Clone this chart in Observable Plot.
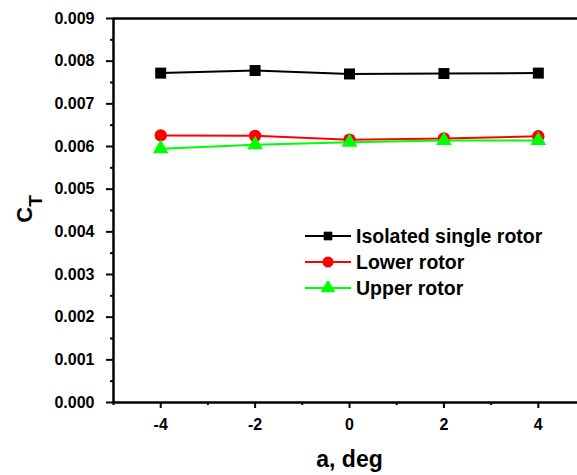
<!DOCTYPE html>
<html><head><meta charset="utf-8">
<script src="https://cdn.jsdelivr.net/npm/d3@7"></script>
<script src="https://cdn.jsdelivr.net/npm/@observablehq/plot@0.6"></script>
<style>
body{margin:0;background:#fff;}
#wrap{position:relative;width:577px;height:475px;overflow:hidden;font-family:"Liberation Sans",Arial,sans-serif;font-weight:bold;}
#legend{position:absolute;left:305px;top:223px;}
.row{display:flex;align-items:center;height:26px;}
.row span{font-size:19.5px;margin-left:5px;color:#000;}
</style></head><body><div id="wrap"><div id="legend"></div></div>
<script>
const alpha = [-4, -2, 0, 2, 4];
const isolated = [0.00772, 0.00778, 0.00770, 0.00771, 0.00772];
const lower = [0.00626, 0.00625, 0.00616, 0.00619, 0.00624];
const upper = [0.00595, 0.00604, 0.00610, 0.00614, 0.00614];
const seriesNames = ["Isolated single rotor", "Lower rotor", "Upper rotor"];
const seriesColors = ["#000000", "#ff0000", "#00ff00"];
const seriesSymbols = ["square", "circle", "triangle"];
const yTicks = [0, 0.001, 0.002, 0.003, 0.004, 0.005, 0.006, 0.007, 0.008, 0.009];
const yMinor = [0.0005, 0.0015, 0.0025, 0.0035, 0.0045, 0.0055, 0.0065, 0.0075, 0.0085];
const xTicks = [-4, -2, 0, 2, 4];
const xMinor = [-5, -3, -1, 1, 3];
const xLabel = "a, deg";
const yLabelMain = "C", yLabelSub = "T";

const seriesValues = [isolated, lower, upper];
const rows = [];
seriesNames.forEach((s, i) => alpha.forEach((a, j) => rows.push({series: s, a, ct: seriesValues[i][j]})));

const symR = {square: 6.2, circle: 6.2, triangle: 5.8};
const marks = [
  Plot.axisY(yTicks, {tickSize: 7, tickPadding: 12, tickFormat: d => d.toFixed(3), fontSize: 16, fontWeight: "bold", strokeWidth: 2, label: null}),
  Plot.axisY(yMinor, {tickSize: 3, text: null, strokeWidth: 2, label: null}),
  Plot.axisX(xTicks, {tickSize: 6, tickPadding: 10, fontSize: 16, fontWeight: "bold", strokeWidth: 2, label: null, tickFormat: d => String(d).replace("\u2212", "-")}),
  Plot.axisX(xMinor, {tickSize: 3, text: null, strokeWidth: 2, label: null}),
  Plot.ruleY([0], {strokeWidth: 2.5}),
  Plot.ruleY([0.009], {strokeWidth: 2.5}),
  Plot.ruleX([-5], {strokeWidth: 2.5}),
];
seriesNames.forEach((s, i) => {
  const d = rows.filter(r => r.series === s);
  marks.push(Plot.line(d, {x: "a", y: "ct", stroke: seriesColors[i], strokeWidth: 2}));
  marks.push(Plot.dot(d, {x: "a", y: "ct", symbol: () => seriesSymbols[i], r: symR[seriesSymbols[i]], fill: seriesColors[i], stroke: "none"}));
});
marks.push(Plot.text([xLabel], {x: () => 0, frameAnchor: "bottom", dy: 64, text: d => d, fontSize: 23, fontWeight: "bold", lineAnchor: "bottom"}));

const plot = Plot.plot({
  width: 577, height: 475,
  marginLeft: 113, marginRight: 0, marginTop: 18, marginBottom: 73,
  style: {fontFamily: "'Liberation Sans', Arial, sans-serif", fontWeight: "bold", color: "#000", background: "#fff", overflow: "visible"},
  x: {domain: [-5, 4.83]},
  y: {domain: [0, 0.009]},
  symbol: {type: "identity"},
  marks
});
document.getElementById("wrap").prepend(plot);

// y label with subscript
const svg = d3.select(plot);
const t = svg.append("text")
  .attr("transform", "translate(32,209) rotate(-90)")
  .attr("text-anchor", "middle")
  .attr("font-family", "'Liberation Sans', Arial, sans-serif")
  .attr("font-weight", "bold")
  .attr("fill", "#000");
t.append("tspan").attr("font-size", 22).text(yLabelMain);
t.append("tspan").attr("font-size", 19).attr("dy", 10).text(yLabelSub);

// legend
const leg = d3.select("#legend");
seriesNames.forEach((s, i) => {
  const row = leg.append("div").attr("class", "row");
  const g = row.append("svg").attr("width", 46).attr("height", 14);
  g.append("line").attr("x1", 0).attr("x2", 46).attr("y1", 7).attr("y2", 7).attr("stroke", seriesColors[i]).attr("stroke-width", 2);
  const sym = {square: d3.symbolSquare, circle: d3.symbolCircle, triangle: d3.symbolTriangle}[seriesSymbols[i]];
  g.append("path").attr("transform", "translate(23,7)").attr("d", d3.symbol(sym, seriesSymbols[i] === "square" ? 75 : 95)()).attr("fill", seriesColors[i]);
  row.append("span").text(s);
});
</script></body></html>
